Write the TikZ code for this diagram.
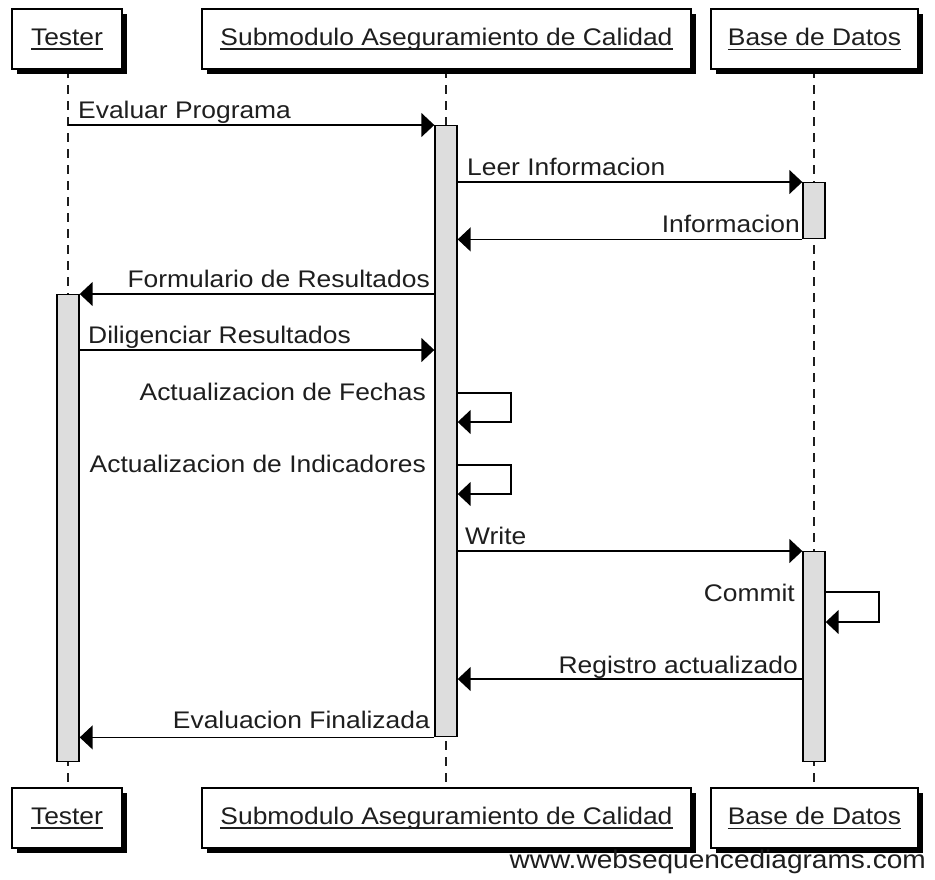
\documentclass[tikz,border=0pt]{standalone}
\usepackage{fontspec}
\setmainfont[FakeStretch=1.1]{Liberation Sans}
\usetikzlibrary{arrows.meta,shadows,backgrounds}

\definecolor{ink}{HTML}{1E1E1E}
\definecolor{barfill}{HTML}{DDDDDD}

% underline set at a fixed depth, crossing descenders
\newcommand{\undl}[1]{\setbox0\hbox{#1}\rlap{\rule[-4.5pt]{\wd0}{1.4pt}}\box0}

\begin{document}
\begin{tikzpicture}[x=1pt,y=-1pt,
  actor/.style={draw=black, line width=1.6pt, fill=white, minimum height=60pt,
    inner sep=0pt, text=ink, font=\fontsize{24}{28}\selectfont,
    drop shadow={shadow xshift=5pt, shadow yshift=-5pt, fill=black, opacity=1}},
  life/.style={draw=ink, line width=1.3pt, dash pattern=on 9pt off 7pt},
  bar/.style={draw=black, line width=1.4pt, fill=barfill, minimum width=22pt,
    inner sep=0pt, anchor=north},
  msg/.style={draw=black, line width=1.5pt, -{Triangle[length=13pt,width=24pt]}},
  lbl/.style={text=ink, inner sep=0pt, font=\fontsize{24}{28}\selectfont}]

\useasboundingbox (0,0) rectangle (935,879);

% participants, top and bottom
\node[actor, minimum width=110pt] (tH) at (67,39) {\undl{Tester}};
\node[actor, minimum width=489pt] (sH) at (446.5,39) {\undl{Submodulo Aseguramiento de Calidad}};
\node[actor, minimum width=207pt] (bH) at (814.5,39) {\undl{Base de Datos}};
\node[actor, minimum width=110pt] (tF) at (67,818) {\undl{Tester}};
\node[actor, minimum width=489pt] (sF) at (446.5,818) {\undl{Submodulo Aseguramiento de Calidad}};
\node[actor, minimum width=207pt] (bF) at (814.5,818) {\undl{Base de Datos}};

% lifelines
\begin{scope}[on background layer]
  \draw[life] (68,69) coordinate (tTop) -- (tTop |- tF.north);
  \draw[life] (446,69) coordinate (sTop) -- (sTop |- sF.north);
  \draw[life] (814,69) coordinate (bTop) -- (bTop |- bF.north);
\end{scope}

% activation bars
\node[bar, minimum height=611pt] (aS) at (446,125) {};
\node[bar, minimum height=56pt] (aB1) at (814,182) {};
\node[bar, minimum height=467pt] (aT) at (68,294) {};
\node[bar, minimum height=210pt] (aB2) at (814,551) {};

% message rows
\coordinate (y350) at (0,350);
\coordinate (f1) at (511,393);
\coordinate (f2) at (511,422);
\coordinate (i1) at (511,465);
\coordinate (i2) at (511,494);
\coordinate (c1) at (879,592);
\coordinate (c2) at (879,622);
\coordinate (y679) at (0,679);

% messages
\draw[msg] (tTop |- aS.north) -- (aS.north west);
\draw[msg] (aS.east |- aB1.north) -- (aB1.north west);
\draw[msg] (aB1.south west) -- (aS.east |- aB1.south);
\draw[msg] (aS.west |- aT.north) -- (aT.north east);
\draw[msg] (aT.east |- y350) -- (aS.west |- y350);
\draw[msg] (aS.east |- f1) -- (f1) -- (f2) -- (aS.east |- f2);
\draw[msg] (aS.east |- i1) -- (i1) -- (i2) -- (aS.east |- i2);
\draw[msg] (aS.east |- aB2.north) -- (aB2.north west);
\draw[msg] (aB2.east |- c1) -- (c1) -- (c2) -- (aB2.east |- c2);
\draw[msg] (aB2.west |- y679) -- (aS.east |- y679);
\draw[msg] (aS.south west) -- (aT.east |- aS.south);

% message labels
\node[lbl, anchor=base west] (t1) at (78,118) {Evaluar Programa};
\node[lbl, anchor=base west] (t2) at (467,175) {Leer Informacion};
\node[lbl, anchor=base east] (t3) at (800,232) {Informacion};
\node[lbl, anchor=base east] (t4) at (430,287) {Formulario de Resultados};
\node[lbl, anchor=base west] (t5) at (88,343) {Diligenciar Resultados};
\node[lbl, anchor=base east] (t6) at (426,400) {Actualizacion de Fechas};
\node[lbl, anchor=base east] (t7) at (426,472) {Actualizacion de Indicadores};
\node[lbl, anchor=base west] (t8) at (465,544) {Write};
\node[lbl, anchor=base east] (t9) at (795,601) {Commit};
\node[lbl, anchor=base east] (t10) at (798,673) {Registro actualizado};
\node[lbl, anchor=base east] (t11) at (430,728) {Evaluacion Finalizada};

% credit line
\node[lbl, anchor=base east, font=\fontsize{25.5}{29}\selectfont] (www) at (926,868) {www.websequencediagrams.com};
\end{tikzpicture}
\end{document}
